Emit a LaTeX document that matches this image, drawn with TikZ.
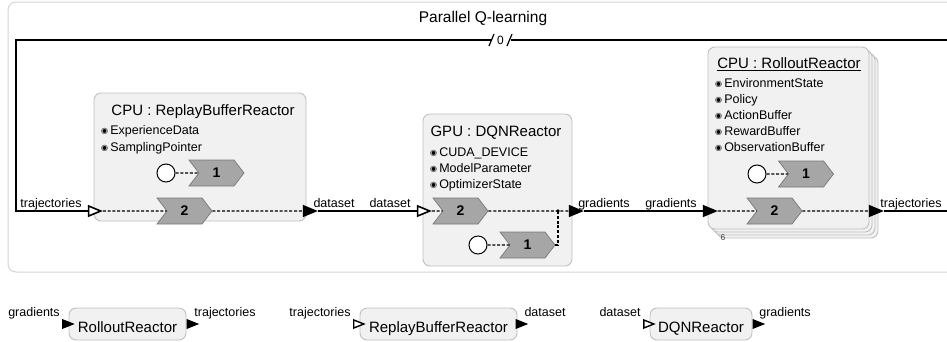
\documentclass[tikz,border=0pt]{standalone}
\usepackage{fontspec}
\setmainfont{Liberation Sans}
\newfontfamily\bulletfont{DejaVu Sans}
\usetikzlibrary{arrows.meta, shapes.geometric, shapes.symbols}

\definecolor{framegray}{RGB}{212,212,212}
\definecolor{boxfill}{RGB}{241,241,241}
\definecolor{boxline}{RGB}{192,192,192}
\definecolor{chevfill}{RGB}{166,166,166}
\definecolor{chevline}{RGB}{120,120,120}

% attribute entry with its small ring bullet
\newcommand{\attr}[1]{{\bulletfont\fontsize{8}{8}\selectfont\raisebox{0.8pt}{◉}}\,#1}

\begin{document}
\begin{tikzpicture}[x=1pt, y=-1pt,
    reactor/.style={draw=boxline, fill=boxfill, rounded corners=7pt, line width=0.9pt, inner sep=0pt},
    chev/.style={signal, signal from=west, signal to=east, signal pointer angle=105,
        draw=chevline, fill=chevfill, line width=0.7pt, minimum width=55pt, minimum height=26pt,
        inner sep=0pt, font=\fontsize{14}{14}\selectfont\bfseries},
    state/.style={circle, draw, fill=white, line width=1pt, minimum size=18pt, inner sep=0pt},
    inport/.style={isosceles triangle, isosceles triangle stretches, draw, fill=white,
        line width=1.6pt, minimum width=10pt, minimum height=12pt, inner sep=0pt},
    outport/.style={inport, fill=black},
    smallin/.style={inport, minimum width=8pt, minimum height=10pt, line width=1.4pt},
    smallout/.style={smallin, fill=black},
    wire/.style={line width=2.4pt},
    conn/.style={dash pattern=on 3pt off 1.8pt, line width=1.1pt},
    lbl/.style={anchor=base, inner sep=0pt, font=\fontsize{12.5}{14}\selectfont},
    title/.style={anchor=base, inner sep=0pt, font=\fontsize{15}{16}\selectfont},
    attrib/.style={anchor=base west, inner sep=0pt, font=\fontsize{12.5}{14}\selectfont}]

\useasboundingbox (0,0) rectangle (947,341);
\clip (0,0) rectangle (947,341);

% outer frame of the whole program
\draw[draw=framegray, line width=1pt, rounded corners=8pt] (8,2) rectangle (960,272);
\node[title, font=\fontsize{15.5}{16}\selectfont] (prog) at (483,22) {Parallel Q-learning};

% ReplayBufferReactor
\node[reactor, minimum width=212pt, minimum height=128pt] (rb) at (200,157) {};
\node[title] (rbName) at (203,115.5) {CPU : ReplayBufferReactor};
\node[attrib] (rbExp) at (101,134.5) {\attr{ExperienceData}};
\node[attrib] (rbPtr) at (101,151.5) {\attr{SamplingPointer}};
\node[state] (rbInit) at (166,173) {};
\node[chev] (rbS1) at (216.5,173) {1};
\node[chev] (rbS2) at (184.5,211) {2};
\node[inport] (rbIn) at (92,211) {};
\node[outport] (rbOut) at (307,211) {};
\draw[conn] (rbInit) -- (rbS1);
\draw[conn] (rbIn) -- (rbS2);
\draw[conn] (rbS2) -- (rbOut);

% DQNReactor
\node[reactor, minimum width=149pt, minimum height=152pt] (dq) at (497.5,190) {};
\node[title] (dqName) at (496,136) {GPU : DQNReactor};
\node[attrib] (dqDev) at (430,156.5) {\attr{CUDA\_DEVICE}};
\node[attrib] (dqPar) at (430,172.5) {\attr{ModelParameter}};
\node[attrib] (dqOpt) at (430,188.5) {\attr{OptimizerState}};
\node[chev] (dqS2) at (460.5,211) {2};
\node[chev] (dqS1) at (527.5,245) {1};
\node[state] (dqInit) at (478,245) {};
\node[inport] (dqIn) at (421,211) {};
\node[outport] (dqOut) at (573,211) {};
\coordinate (dqJoin) at (558,211);
\draw[conn] (dqIn) -- (dqS2);
\draw[conn] (dqS2) -- (dqJoin) -- (dqOut);
\draw[conn] (dqInit) -- (dqS1);
\draw[conn] (dqS1) -| (dqJoin);
\fill (dqJoin) circle (1.8pt);

% RolloutReactor, a bank of 6
\node[reactor, minimum width=161pt, minimum height=182pt] (ro3) at (797.5,147) {};
\node[reactor, minimum width=161pt, minimum height=182pt] (ro2) at (794.5,144) {};
\node[reactor, minimum width=161pt, minimum height=182pt] (ro1) at (791.5,141) {};
\node[reactor, minimum width=161pt, minimum height=182pt] (ro) at (788.5,138) {};
\node[anchor=base, inner sep=0pt, font=\fontsize{8.5}{9}\selectfont, text=black!75] (roWidth) at (723,240) {6};
\node[title] (roName) at (789,68.5) {\underline{CPU : RolloutReactor}};
\node[attrib] (roEnv) at (715,87.5) {\attr{EnvironmentState}};
\node[attrib] (roPol) at (715,103.5) {\attr{Policy}};
\node[attrib] (roAct) at (715,119.5) {\attr{ActionBuffer}};
\node[attrib] (roRew) at (715,135.5) {\attr{RewardBuffer}};
\node[attrib] (roObs) at (715,151.5) {\attr{ObservationBuffer}};
\node[state] (roInit) at (757,174) {};
\node[chev] (roS1) at (806,174) {1};
\node[chev] (roS2) at (774.5,211) {2};
\node[outport] (roIn) at (707,211) {};
\node[outport] (roOut) at (873,211) {};
\draw[conn] (roInit) -- (roS1);
\draw[conn] (roIn) -- (roS2);
\draw[conn] (roS2) -- (roOut);

% port labels
\node[lbl] (lTraj1) at (51,207.5) {trajectories};
\node[lbl] (lData1) at (334,207.5) {dataset};
\node[lbl] (lData2) at (390,207.5) {dataset};
\node[lbl] (lGrad1) at (604,207.5) {gradients};
\node[lbl] (lGrad2) at (671,207.5) {gradients};
\node[lbl] (lTraj2) at (911,207.5) {trajectories};

% connections between reactors, the loop closes off to the right
\coordinate (loopR) at (960,211);
\coordinate (loopL) at (16,40);
\node[inner sep=0pt, font=\fontsize{12}{12}\selectfont] (brk) at (500.5,40) {0};
\draw[wire] (rbOut) -- (dqIn);
\draw[wire] (dqOut) -- (roIn);
\draw[wire] (roOut) -- (loopR) |- (511,40);
\draw[wire] (491,40) -- (loopL) |- (rbIn);
\draw[line width=1.2pt] (489,46) -- (494,34);
\draw[line width=1.2pt] (507,46) -- (512,34);

% reactor type legend
\node[reactor, minimum width=117pt, minimum height=32pt] (bRo) at (127.5,324) {};
\node[title] (bRoName) at (127.5,332.5) {RolloutReactor};
\node[smallout] (bRoIn) at (65.5,324) {};
\node[smallout] (bRoOut) at (190,324) {};
\node[lbl] (bGrad1) at (34,316.5) {gradients};
\node[lbl] (bTraj1) at (225,316.5) {trajectories};

\node[reactor, minimum width=157pt, minimum height=32pt] (bRb) at (438.5,324) {};
\node[title] (bRbName) at (438.5,332.5) {ReplayBufferReactor};
\node[smallin] (bRbIn) at (356.5,324) {};
\node[smallout] (bRbOut) at (519,324) {};
\node[lbl] (bTraj2) at (320,316.5) {trajectories};
\node[lbl] (bData1) at (545,316.5) {dataset};

\node[reactor, minimum width=102pt, minimum height=32pt] (bDq) at (701,324) {};
\node[title] (bDqName) at (701,332.5) {DQNReactor};
\node[smallin] (bDqIn) at (646.5,324) {};
\node[smallout] (bDqOut) at (756,324) {};
\node[lbl] (bData2) at (620,316.5) {dataset};
\node[lbl] (bGrad2) at (785,316.5) {gradients};

\end{tikzpicture}
\end{document}
